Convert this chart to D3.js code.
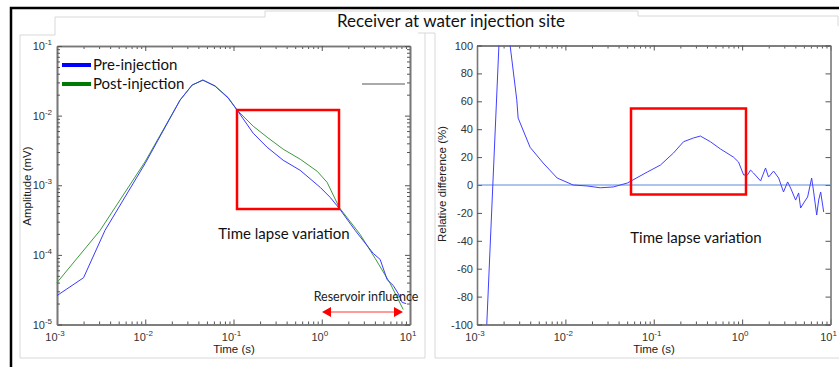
<!doctype html>
<html>
  <head>
    <script src="https://cdnjs.cloudflare.com/ajax/libs/d3/7.8.5/d3.min.js"></script>
    <style>
      body { margin: 0; background: #fff; }
      svg { display: block; }
    </style>
  </head>
  <body>
    <svg width="839" height="367"></svg>
    <script>
        // ---- data ----
        var preTime = [0.001, 0.002, 0.0035, 0.01, 0.0248, 0.034, 0.045, 0.0618, 0.0869, 0.110, 0.167, 0.240, 0.365, 0.569, 0.959, 1.245, 1.574, 2.39, 3.83, 4.59, 5.51, 6.45, 7.35, 8.16, 9.05];
        var preAmp  = [2.6e-5, 4.7e-5, 2.25e-4, 2.07e-3, 0.0167, 0.0275, 0.0324, 0.0265, 0.0179, 0.0120, 0.0056, 0.00352, 0.00229, 0.00164, 9.35e-4, 6.71e-4, 4.67e-4, 2.25e-4, 1.05e-4, 8.6e-5, 4.4e-5, 3.64e-5, 2.79e-5, 2.07e-5, 2.0e-5];

        var postTime = [0.001, 0.00308, 0.01, 0.0248, 0.034, 0.045, 0.0618, 0.0869, 0.110, 0.167, 0.240, 0.365, 0.569, 0.887, 1.151, 1.574, 2.72, 4.03, 5.96, 8.38];
        var postAmp  = [4.0e-5, 2.25e-4, 2.2e-3, 0.0167, 0.0275, 0.0324, 0.0268, 0.0182, 0.0120, 0.00706, 0.00491, 0.0033, 0.00237, 0.00159, 0.0011, 4.82e-4, 1.97e-4, 8.9e-5, 3.89e-5, 1.64e-5];

        var diffTime = [0.0012, 0.00129, 0.00151, 0.00177, 0.00205, 0.00237, 0.00282, 0.00292, 0.00399, 0.0056, 0.00807, 0.01225, 0.01766, 0.0248, 0.0348, 0.0502, 0.0845, 0.119, 0.167, 0.217, 0.281, 0.337, 0.438, 0.569, 0.798, 0.91, 1.04, 1.15, 1.245, 1.346, 1.618, 1.84, 1.99, 2.27, 2.59, 2.94, 3.27, 3.54, 4.03, 4.36, 4.59, 4.97, 5.51, 6.12, 6.45, 6.98, 7.35, 7.74, 8.38];
        var diffPct  = [-160, -100, 0, 100, 170, 100, 61, 48, 27, 15.8, 5, 0, -0.7, -2, -1.4, 1.4, 9.3, 14.3, 22.9, 31, 33.7, 35.1, 31, 25.8, 20, 16.5, 7.2, 7.2, 10.7, 8.6, 2.9, 12.2, 5.7, 10, 5, -5, 2.2, -2.2, -10.8, -5.7, -16.5, -12.9, -8.6, 5, -5, -21.5, -10.8, -5, -19.4];

        var seriesNames = ["Pre-injection", "Post-injection"];
        var timeTicks = [1e-3, 1e-2, 1e-1, 1, 10];
        var ampTicks = [1e-5, 1e-4, 1e-3, 1e-2, 1e-1];
        var pctTicks = [-100, -80, -60, -40, -20, 0, 20, 40, 60, 80, 100];

        var svg = d3.select("svg");
        var LABEL_FONT = "'Liberation Sans', Arial, sans-serif";
        var TEXT_FONT = "Lato, 'Open Sans', sans-serif";

        // slide artefacts: black frame + light panel outlines
        svg.append("path").attr("d", "M11,367V8H839")
            .attr("fill", "none").attr("stroke", "#000").attr("stroke-width", 2.5);
        svg.append("path")
            .attr("d", "M20,358V35H55V17H265V11H638V16H838V26 M20,358H425V33H418 M425,33H435V358 M435,358H839")
            .attr("fill", "none").attr("stroke", "#d8d8d8").attr("stroke-width", 1);

        svg.append("text")
            .attr("x", 451).attr("y", 27)
            .attr("text-anchor", "middle")
            .style("font-family", TEXT_FONT).style("font-size", "17px")
            .attr("fill", "#111")
            .text("Receiver at water injection site");

        // scales
        var xL = d3.scaleLog().domain([1e-3, 10]).range([57, 410]);
        var yL = d3.scaleLog().domain([1e-5, 1e-1]).range([324.5, 46]);
        var xR = d3.scaleLog().domain([1e-3, 10]).range([477, 830.5]);
        var yR = d3.scaleLinear().domain([-100, 100]).range([324.5, 45.5]);

        function isDecade(v) {
            var l = Math.log10(v);
            return Math.abs(l - Math.round(l)) < 1e-6;
        }

        function drawXAxis(x, y) {
            var y0 = y.range()[0], y1 = y.range()[1];
            var minor = x.ticks().filter(function (v) { return !isDecade(v); });
            [["bottom", y0, -1], ["top", y1, 1]].forEach(function (s) {
                var mk = s[0] === "bottom" ? d3.axisBottom : d3.axisTop;
                var gMin = svg.append("g").attr("transform", "translate(0," + s[1] + ")")
                    .call(mk(x).tickValues(minor).tickSize(-3).tickSizeOuter(0).tickFormat(""));
                var gMaj = svg.append("g").attr("transform", "translate(0," + s[1] + ")")
                    .call(mk(x).tickValues(timeTicks).tickSize(-5).tickSizeOuter(0).tickFormat(""));
                [gMin, gMaj].forEach(function (g) {
                    g.selectAll("line").attr("stroke", "#555");
                    g.select(".domain").attr("stroke", "#777").attr("stroke-width", 1.6);
                });
            });
            var lab = svg.append("g").selectAll("text").data(timeTicks).join("text")
                .attr("x", function (d) { return x(d) - 2; })
                .attr("y", y0 + 16)
                .attr("text-anchor", "middle")
                .style("font-family", LABEL_FONT).style("font-size", "11px")
                .attr("fill", "#333");
            lab.append("tspan").text("10");
            lab.append("tspan").attr("dy", -5).style("font-size", "8px")
                .text(function (d) { return Math.round(Math.log10(d)); });
        }

        function drawYAxis(x, y, ticks, logLabels) {
            var x0 = x.range()[0], x1 = x.range()[1];
            var major = ticks;
            var minor = logLabels ? y.ticks().filter(function (v) { return !isDecade(v); }) : [];
            [[d3.axisLeft, x0, -1], [d3.axisRight, x1, 1]].forEach(function (s) {
                var gMaj = svg.append("g").attr("transform", "translate(" + s[1] + ",0)")
                    .call(s[0](y).tickValues(major).tickSize(-5).tickSizeOuter(0).tickFormat(""));
                var gs = [gMaj];
                if (minor.length) {
                    gs.push(svg.append("g").attr("transform", "translate(" + s[1] + ",0)")
                        .call(s[0](y).tickValues(minor).tickSize(-3).tickSizeOuter(0).tickFormat("")));
                }
                gs.forEach(function (g) {
                    g.selectAll("line").attr("stroke", "#555");
                    g.select(".domain").attr("stroke", "#777").attr("stroke-width", 1.6);
                });
            });
            var lab = svg.append("g").selectAll("text").data(major).join("text")
                .attr("x", x0 - 4)
                .attr("y", function (d) { return y(d) + 4; })
                .attr("text-anchor", "end")
                .style("font-family", LABEL_FONT).style("font-size", "11px")
                .attr("fill", "#333");
            if (logLabels) {
                lab.attr("x", x0 - 5);
                lab.append("tspan").text("10");
                lab.append("tspan").attr("dy", -5).style("font-size", "8px")
                    .text(function (d) { return Math.round(Math.log10(d)); });
            } else {
                lab.text(function (d) { return d; });
            }
        }

        function axisTitle(txt, x, y, rot) {
            svg.append("text")
                .attr("transform", "translate(" + x + "," + y + ")" + (rot ? " rotate(-90)" : ""))
                .attr("text-anchor", "middle")
                .style("font-family", LABEL_FONT).style("font-size", "11.5px")
                .attr("fill", "#222")
                .text(txt);
        }

        // ---- left panel ----
        drawXAxis(xL, yL);
        drawYAxis(xL, yL, ampTicks, true);
        axisTitle("Time (s)", 234, 353, false);
        axisTitle("Amplitude  (mV)", 31, 186, true);

        var lineL = d3.line().x(function (d) { return xL(d[0]); }).y(function (d) { return yL(d[1]); });
        svg.append("path").datum(d3.zip(postTime, postAmp)).attr("d", lineL)
            .attr("fill", "none").attr("stroke", "#3d9a3d").attr("stroke-width", 1);
        svg.append("path").datum(d3.zip(preTime, preAmp)).attr("d", lineL)
            .attr("fill", "none").attr("stroke", "#3a3aff").attr("stroke-width", 1);

        // legend
        var legColors = ["#0000ff", "#007a00"];
        seriesNames.forEach(function (n, i) {
            var ly = 65 + i * 19;
            svg.append("line").attr("x1", 62).attr("x2", 91).attr("y1", ly).attr("y2", ly)
                .attr("stroke", legColors[i]).attr("stroke-width", 4);
            svg.append("text").attr("x", 93).attr("y", ly + 5)
                .style("font-family", TEXT_FONT).style("font-size", "15px")
                .attr("fill", "#111").text(n);
        });
        svg.append("line").attr("x1", 362).attr("x2", 405).attr("y1", 84).attr("y2", 84)
            .attr("stroke", "#aaa").attr("stroke-width", 2);

        // annotations left
        svg.append("rect").attr("x", 237).attr("y", 110).attr("width", 102).attr("height", 99)
            .attr("fill", "none").attr("stroke", "#ff0000").attr("stroke-width", 2.5);
        svg.append("text").attr("x", 284).attr("y", 239).attr("text-anchor", "middle")
            .style("font-family", TEXT_FONT).style("font-size", "15px").attr("fill", "#111")
            .text("Time lapse variation");
        svg.append("text").attr("x", 366).attr("y", 301).attr("text-anchor", "middle")
            .style("font-family", TEXT_FONT).style("font-size", "12.5px").attr("fill", "#222")
            .text("Reservoir influence");
        svg.append("line").attr("x1", 328).attr("x2", 396).attr("y1", 312).attr("y2", 312)
            .attr("stroke", "#ff9a9a").attr("stroke-width", 2);
        svg.append("path").attr("d", "M322,312l9,-5v10z M403,312l-9,-5v10z").attr("fill", "#ff0000");

        // ---- right panel ----
        drawXAxis(xR, yR);
        drawYAxis(xR, yR, pctTicks, false);
        axisTitle("Time (s)", 654, 353, false);
        axisTitle("Relative difference (%)", 446, 184, true);

        svg.append("clipPath").attr("id", "clipR").append("rect")
            .attr("x", 477).attr("y", 45.5).attr("width", 353.5).attr("height", 279);
        svg.append("line").attr("x1", xR(1e-3)).attr("x2", xR(10)).attr("y1", yR(0)).attr("y2", yR(0))
            .attr("stroke", "#5a8ad8").attr("stroke-width", 1);
        var lineR = d3.line().x(function (d) { return xR(d[0]); }).y(function (d) { return yR(d[1]); });
        svg.append("path").datum(d3.zip(diffTime, diffPct)).attr("d", lineR)
            .attr("clip-path", "url(#clipR)")
            .attr("fill", "none").attr("stroke", "#4040ff").attr("stroke-width", 1);

        svg.append("rect").attr("x", 631).attr("y", 108.5).attr("width", 115).attr("height", 86)
            .attr("fill", "none").attr("stroke", "#ff0000").attr("stroke-width", 2.5);
        svg.append("text").attr("x", 696).attr("y", 243).attr("text-anchor", "middle")
            .style("font-family", TEXT_FONT).style("font-size", "15px").attr("fill", "#111")
            .text("Time lapse variation");
    </script>
  </body>
</html>
